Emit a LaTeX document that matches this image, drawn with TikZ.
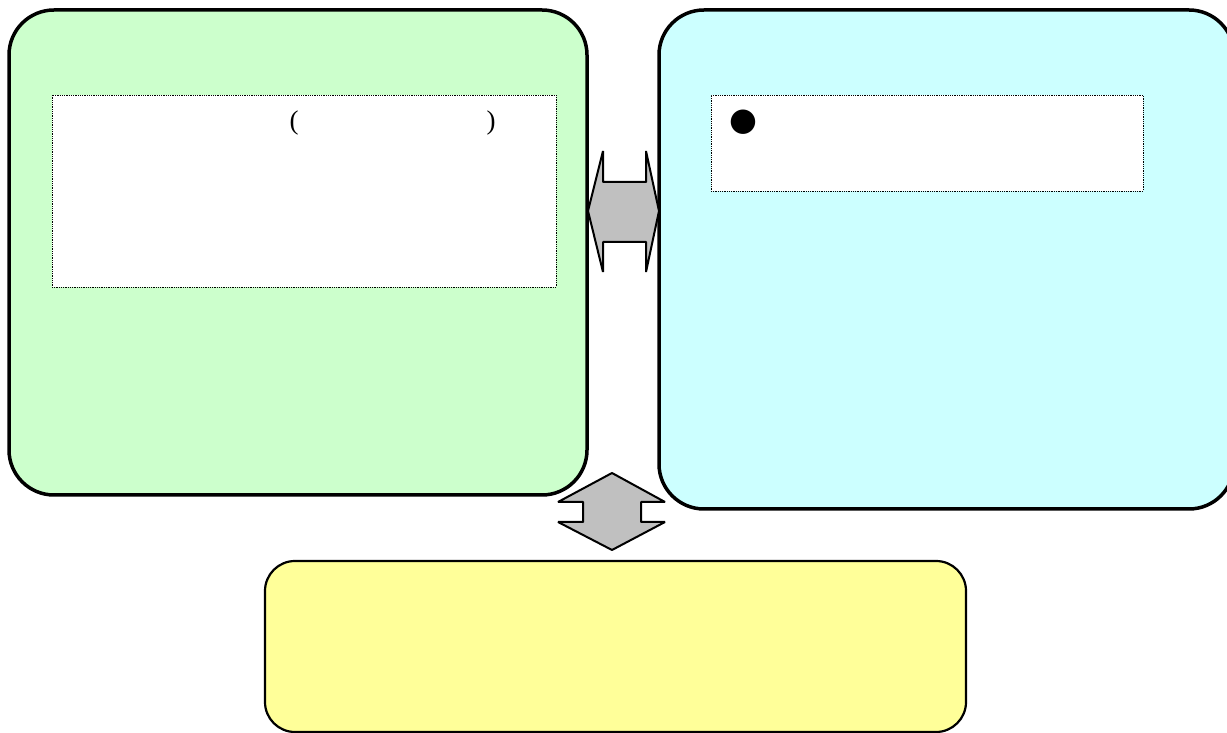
\documentclass[tikz,border=0pt]{standalone}
\usepackage{fontspec}
\setmainfont{Liberation Serif}
\newfontfamily\symfont{DejaVu Sans}
\usepackage{tikz}
\usetikzlibrary{arrows.meta}
\usetikzlibrary{shapes}
\definecolor{boxgreen}{HTML}{CCFFCC}
\definecolor{boxcyan}{HTML}{CCFFFF}
\definecolor{boxyellow}{HTML}{FFFF99}
\definecolor{arrowgray}{HTML}{C0C0C0}
\tikzset{
  bigbox/.style={draw=black,line width=3.5bp,rounded corners=45bp,inner sep=0pt},
  notebox/.style={draw=black,fill=white,densely dotted,line width=0.8bp,inner sep=0pt},
  blockarrow/.style={draw=black,fill=arrowgray,line width=2bp,line join=bevel},
}
\begin{document}
\begin{tikzpicture}[>=latex,line join=bevel,]
%%
\useasboundingbox (0bp,0bp) rectangle (1227bp,733bp);
\clip (0bp,0bp) rectangle (1227bp,733bp);
\node (node_green) at (298bp,480.5bp) [bigbox,fill=boxgreen,minimum width=578bp,minimum height=485bp] {};
  \node (node_cyan) at (946.5bp,473.5bp) [bigbox,fill=boxcyan,minimum width=575bp,minimum height=499bp] {};
  \node (node_yellow) at (615.5bp,86.5bp) [bigbox,fill=boxyellow,line width=2.2bp,rounded corners=30bp,minimum width=701bp,minimum height=171bp] {};
  \node (node_note1) at (304bp,542bp) [notebox,minimum width=504bp,minimum height=192bp] {};
  \node (node_note2) at (927bp,590bp) [notebox,minimum width=432bp,minimum height=96bp] {};
  \node (node_lp) at (294bp,610bp) [draw=none,inner sep=0pt] {\fontsize{27bp}{30bp}\selectfont (};
  \node (node_rp) at (491bp,610bp) [draw=none,inner sep=0pt] {\fontsize{27bp}{30bp}\selectfont )};
  \node (node_dot) at (743bp,611bp) [draw=none,inner sep=0pt] {\fontsize{32bp}{36bp}\symfont ●};
  \draw [blockarrow] (588bp,522bp) -- (603bp,582bp) -- (603bp,551bp) -- (646bp,551bp) -- (646bp,582bp) -- (659bp,522bp) -- (646bp,461bp) -- (646bp,491bp) -- (603bp,491bp) -- (603bp,461bp) -- cycle;
  \draw [blockarrow] (612bp,260bp) -- (665bp,231bp) -- (641bp,231bp) -- (641bp,211bp) -- (665bp,211bp) -- (612bp,183bp) -- (558bp,211bp) -- (583bp,211bp) -- (583bp,231bp) -- (558bp,231bp) -- cycle;
%
\end{tikzpicture}
\end{document}
